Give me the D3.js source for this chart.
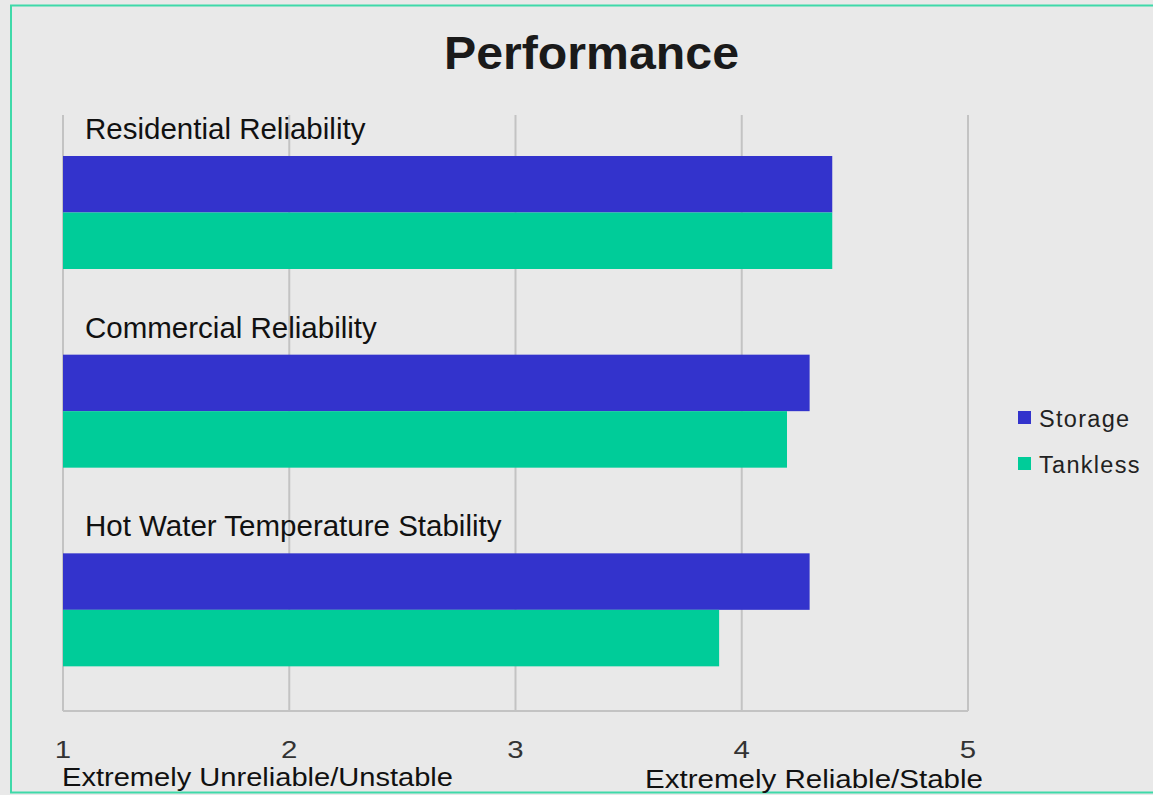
<!DOCTYPE html>
<html><head><meta charset="utf-8">
<script src="https://cdn.jsdelivr.net/npm/d3@7"></script>
<style>html,body{margin:0;padding:0;background:#e9e9e9;}svg{display:block;}</style>
</head><body>
<svg id="chart" width="1153" height="795"></svg>
<script>
const categories = ["Residential Reliability", "Commercial Reliability", "Hot Water Temperature Stability"];
const seriesNames = ["Storage", "Tankless"];
const storageValues = [4.4, 4.3, 4.3];
const tanklessValues = [4.4, 4.2, 3.9];
const xTicks = [1, 2, 3, 4, 5];
const colors = ["#3333cc", "#00cc99"];

(function(){
const svg = d3.select("#chart");
const FONT = "Liberation Sans, Arial, Helvetica, sans-serif";
svg.append("rect").attr("x",0).attr("y",0).attr("width",1153).attr("height",795).attr("fill","#e9e9e9");
svg.append("rect").attr("x",11).attr("y",5.5).attr("width",1160).attr("height",787)
  .attr("fill","none").attr("stroke","#3fd9a9").attr("stroke-width",2);

const pLeft = 63, pRight = 968, pTop = 115, pBottom = 711;
const x = d3.scaleLinear().domain([1,5]).range([pLeft,pRight]);
const y = d3.scaleBand().domain(categories).range([pTop,pBottom]);
const barTop = 41, barH = 56.5;

// gridlines
svg.append("g").selectAll("line").data(xTicks).join("line")
  .attr("x1",d=>x(d)).attr("x2",d=>x(d)).attr("y1",pTop).attr("y2",pBottom)
  .attr("stroke","#c3c3c3").attr("stroke-width",2);
svg.append("line").attr("x1",pLeft).attr("x2",pRight).attr("y1",pBottom).attr("y2",pBottom)
  .attr("stroke","#c3c3c3").attr("stroke-width",2);

const data = categories.map((c,i)=>({cat:c, vals:[storageValues[i], tanklessValues[i]]}));
const g = svg.append("g").selectAll("g").data(data).join("g")
  .attr("transform", d=>`translate(0,${y(d.cat)})`);
g.selectAll("rect").data(d=>d.vals.map((v,j)=>({v,j}))).join("rect")
  .attr("x", x(1)).attr("y", d=>barTop + d.j*barH).attr("height", barH)
  .attr("width", d=>x(d.v)-x(1)).attr("fill", d=>colors[d.j]);
g.append("text").attr("x",85).attr("y",24).text(d=>d.cat)
  .attr("font-family",FONT).attr("font-size",29.5).attr("fill","#111");

// x axis tick labels
svg.append("g").selectAll("text").data(xTicks).join("text")
  .attr("transform",d=>`translate(${x(d)},758) scale(1.25,1)`).attr("text-anchor","middle").text(d=>d)
  .attr("font-family",FONT).attr("font-size",23.5).attr("fill","#333");

svg.append("text").attr("x",62).attr("y",786).text("Extremely Unreliable/Unstable")
  .attr("font-family",FONT).attr("font-size",25).attr("fill","#111")
  .attr("textLength",391).attr("lengthAdjust","spacingAndGlyphs");
svg.append("text").attr("x",645).attr("y",788).text("Extremely Reliable/Stable")
  .attr("font-family",FONT).attr("font-size",25).attr("fill","#111")
  .attr("textLength",338).attr("lengthAdjust","spacingAndGlyphs");

// title
svg.append("text").attr("x",591.5).attr("y",69).attr("text-anchor","middle").text("Performance")
  .attr("font-family",FONT).attr("font-weight","bold").attr("font-size",47).attr("fill","#1a1a1a")
  .attr("textLength",295).attr("lengthAdjust","spacingAndGlyphs");

// legend
const leg = svg.append("g").selectAll("g").data(seriesNames).join("g")
  .attr("transform",(d,i)=>`translate(1018,${411+i*46})`);
leg.append("rect").attr("width",13).attr("height",13).attr("fill",(d,i)=>colors[i]);
leg.append("text").attr("x",21).attr("y",16).text(d=>d)
  .attr("font-family",FONT).attr("font-size",23.5).attr("fill","#222")
  .attr("letter-spacing",1.3);
})();
</script>
</body></html>
